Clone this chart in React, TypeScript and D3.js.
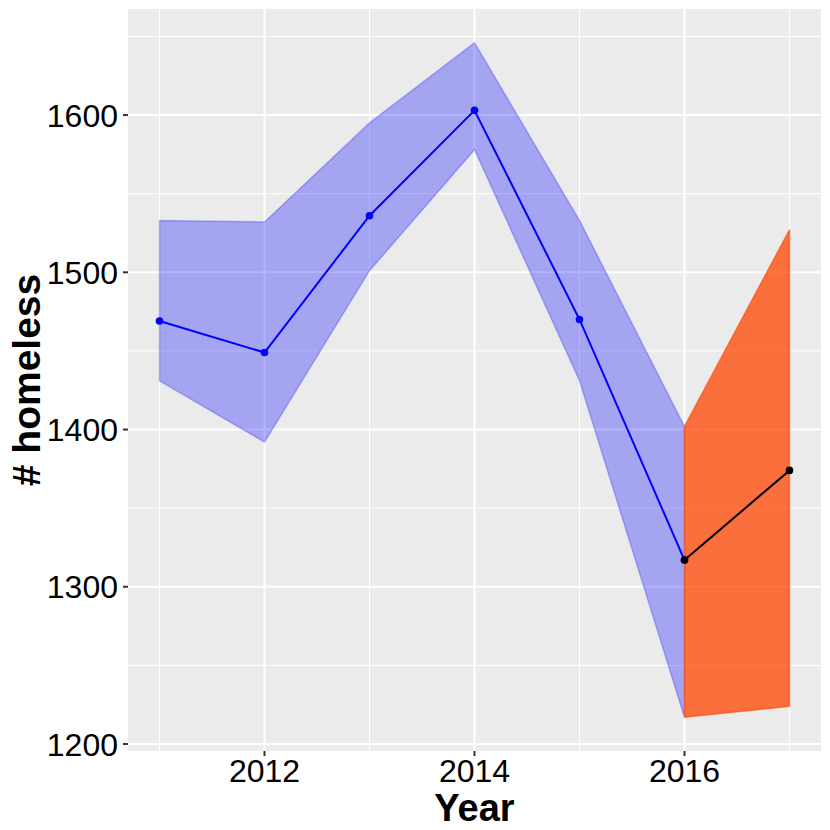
import React, { useEffect, useRef } from 'react';
import * as d3 from 'd3';

// observed counts with interval
const years = [2011, 2012, 2013, 2014, 2015, 2016];
const counts = [1469, 1449, 1536, 1603, 1470, 1317];
const lower = [1431, 1392, 1501, 1578, 1431, 1217];
const upper = [1533, 1532, 1595, 1646, 1533, 1402];

// forecast
const fcYears = [2016, 2017];
const fcCounts = [1317, 1374];
const fcLower = [1217, 1224];
const fcUpper = [1402, 1527];

const xBreaks = [2012, 2014, 2016];
const xMinor = [2011, 2013, 2015, 2017];
const yBreaks = [1200, 1300, 1400, 1500, 1600];
const yMinor = [1250, 1350, 1450, 1550, 1650];

const W = 830;
const H = 830;
const FONT = '"Liberation Sans", Arial, Helvetica, sans-serif';

const App = () => {
  const svgRef = useRef<SVGSVGElement | null>(null);

  useEffect(() => {
    if (!svgRef.current) return;
    const svg = d3.select(svgRef.current);
    svg.selectAll('*').remove();

    const margin = { top: 9, right: 9, bottom: 79, left: 128 };
    const pw = W - margin.left - margin.right;
    const ph = H - margin.top - margin.bottom;

    const allLo = d3.min([...lower, ...fcLower]) as number;
    const allHi = d3.max([...upper, ...fcUpper]) as number;
    const yPad = (allHi - allLo) * 0.05;
    const xPad = (2017 - 2011) * 0.05;

    const x = d3.scaleLinear().domain([2011 - xPad, 2017 + xPad]).range([0, pw]);
    const y = d3.scaleLinear().domain([allLo - yPad, allHi + yPad]).range([ph, 0]);

    const g = svg.append('g').attr('transform', `translate(${margin.left},${margin.top})`);

    // panel background
    g.append('rect').attr('width', pw).attr('height', ph).attr('fill', '#EBEBEB');

    // minor grid
    g.selectAll('.ymin').data(yMinor).join('line')
      .attr('x1', 0).attr('x2', pw)
      .attr('y1', d => y(d)).attr('y2', d => y(d))
      .attr('stroke', '#fff').attr('stroke-width', 1);
    g.selectAll('.xmin').data(xMinor).join('line')
      .attr('y1', 0).attr('y2', ph)
      .attr('x1', d => x(d)).attr('x2', d => x(d))
      .attr('stroke', '#fff').attr('stroke-width', 1);

    // major grid
    g.selectAll('.ymaj').data(yBreaks).join('line')
      .attr('x1', 0).attr('x2', pw)
      .attr('y1', d => y(d)).attr('y2', d => y(d))
      .attr('stroke', '#fff').attr('stroke-width', 2);
    g.selectAll('.xmaj').data(xBreaks).join('line')
      .attr('y1', 0).attr('y2', ph)
      .attr('x1', d => x(d)).attr('x2', d => x(d))
      .attr('stroke', '#fff').attr('stroke-width', 2);

    // observed ribbon
    const obsArea = d3.area<number>()
      .x(d => x(d))
      .y0((d, i) => y(lower[i]))
      .y1((d, i) => y(upper[i]));
    g.append('path').datum(years).attr('d', obsArea)
      .attr('fill', 'blue').attr('fill-opacity', 0.3)
      .attr('stroke', 'blue').attr('stroke-opacity', 0.25).attr('stroke-width', 1.5);

    // forecast ribbon
    const fcArea = d3.area<number>()
      .x(d => x(d))
      .y0((d, i) => y(fcLower[i]))
      .y1((d, i) => y(fcUpper[i]));
    g.append('path').datum(fcYears).attr('d', fcArea)
      .attr('fill', '#FF4500').attr('fill-opacity', 0.75)
      .attr('stroke', '#FF4500').attr('stroke-opacity', 0.6).attr('stroke-width', 1.5);

    // lines
    const obsLine = d3.line<number>().x(d => x(d)).y((d, i) => y(counts[i]));
    g.append('path').datum(years).attr('d', obsLine)
      .attr('fill', 'none').attr('stroke', 'blue').attr('stroke-width', 2);
    const fcLine = d3.line<number>().x(d => x(d)).y((d, i) => y(fcCounts[i]));
    g.append('path').datum(fcYears).attr('d', fcLine)
      .attr('fill', 'none').attr('stroke', 'black').attr('stroke-width', 2);

    // points
    g.selectAll('.pt').data(years).join('circle')
      .attr('cx', d => x(d)).attr('cy', (d, i) => y(counts[i]))
      .attr('r', 3.8).attr('fill', 'blue');
    g.selectAll('.fpt').data(fcYears).join('circle')
      .attr('cx', d => x(d)).attr('cy', (d, i) => y(fcCounts[i]))
      .attr('r', 3.8).attr('fill', 'black');

    // y axis ticks + labels
    g.selectAll('.ytick').data(yBreaks).join('line')
      .attr('x1', -5).attr('x2', 0)
      .attr('y1', d => y(d)).attr('y2', d => y(d))
      .attr('stroke', '#333').attr('stroke-width', 2);
    g.selectAll('.ylab').data(yBreaks).join('text')
      .attr('x', -10).attr('y', d => y(d))
      .attr('dy', '0.36em')
      .attr('text-anchor', 'end')
      .attr('font-family', FONT).attr('font-size', 32)
      .attr('fill', '#000')
      .text(d => d);

    // x axis ticks + labels
    g.selectAll('.xtick').data(xBreaks).join('line')
      .attr('y1', ph).attr('y2', ph + 5)
      .attr('x1', d => x(d)).attr('x2', d => x(d))
      .attr('stroke', '#333').attr('stroke-width', 2);
    g.selectAll('.xlab').data(xBreaks).join('text')
      .attr('x', d => x(d)).attr('y', ph + 31)
      .attr('text-anchor', 'middle')
      .attr('font-family', FONT).attr('font-size', 32)
      .attr('fill', '#000')
      .text(d => d);

    // axis titles
    g.append('text')
      .attr('x', pw / 2).attr('y', ph + 70)
      .attr('text-anchor', 'middle')
      .attr('font-family', FONT).attr('font-size', 38).attr('font-weight', 'bold')
      .text('Year');
    svg.append('text')
      .attr('transform', `translate(40,${margin.top + ph / 2}) rotate(-90)`)
      .attr('text-anchor', 'middle')
      .attr('font-family', FONT).attr('font-size', 39).attr('font-weight', 'bold')
      .text('# homeless');
  }, []);

  return (
    <svg
      ref={svgRef}
      width={W}
      height={H}
      style={{ position: 'absolute', left: 0, top: 0, background: '#fff' }}
    />
  );
};

export default App;
